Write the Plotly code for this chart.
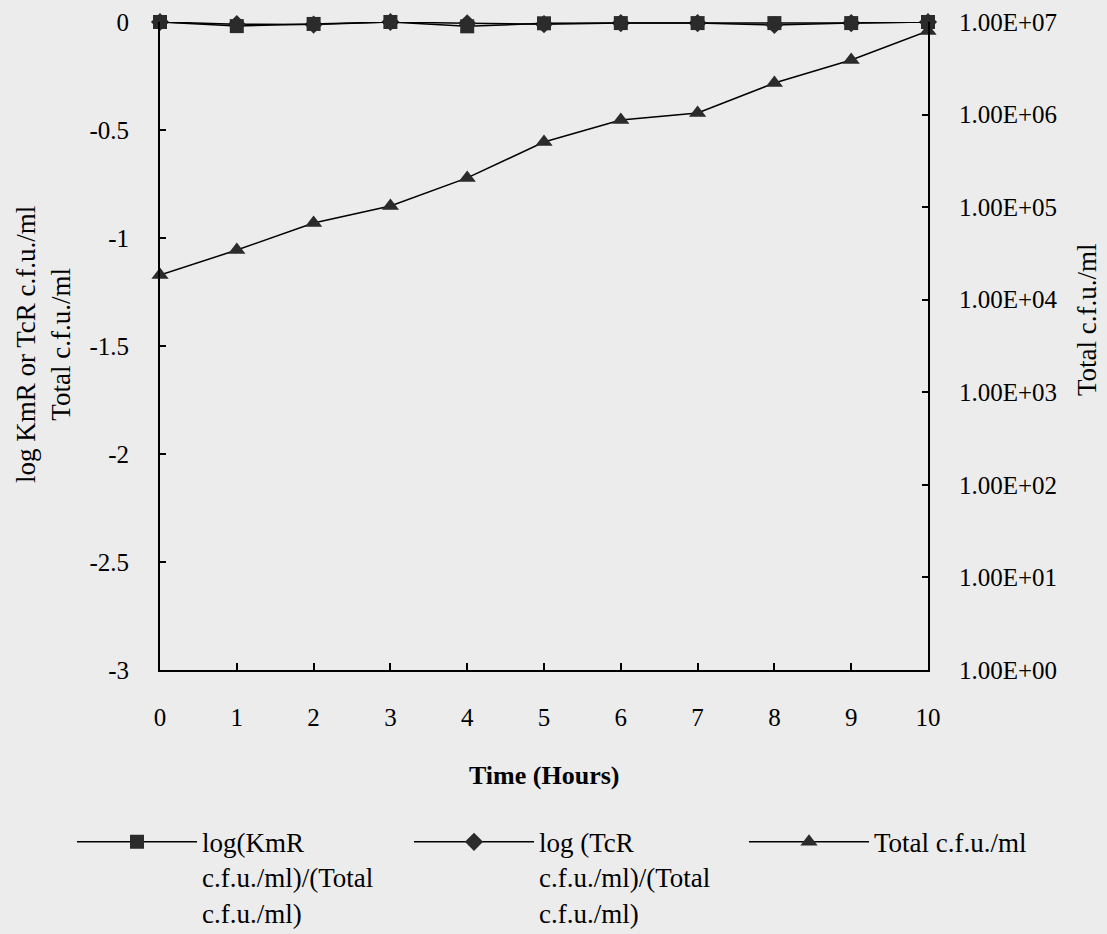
import plotly.graph_objects as go

hours = [0, 1, 2, 3, 4, 5, 6, 7, 8, 9, 10]
log_kmr_ratio = [0, -0.019, -0.009, 0, -0.02, -0.006, -0.005, -0.005, -0.005, -0.005, 0]
log_tcr_ratio = [0, -0.01, -0.012, 0, -0.006, -0.01, -0.005, -0.005, -0.014, -0.005, 0]
total_cfu = [1.85e4, 3.44e4, 6.74e4, 1.03e5, 2.07e5, 5.06e5, 8.74e5, 1.04e6, 2.19e6, 3.89e6, 8.0e6]

left_tickvals = [0, -0.5, -1, -1.5, -2, -2.5, -3]
left_ticktext = ["0", "-0.5", "-1", "-1.5", "-2", "-2.5", "-3"]
right_tickvals = [1, 10, 100, 1000, 1e4, 1e5, 1e6, 1e7]
right_ticktext = ["1.00E+00", "1.00E+01", "1.00E+02", "1.00E+03",
                  "1.00E+04", "1.00E+05", "1.00E+06", "1.00E+07"]

name_kmr = "log(KmR<br>c.f.u./ml)/(Total<br>c.f.u./ml)"
name_tcr = "log (TcR<br>c.f.u./ml)/(Total<br>c.f.u./ml)"
name_total = "Total c.f.u./ml"

FONT = "Liberation Serif"
BG = "#ececec"
MK = "#2b2b2b"

fig = go.Figure()
fig.add_trace(go.Scatter(
    x=hours, y=log_tcr_ratio, name=name_tcr, mode="lines+markers",
    line=dict(color="black", width=1.5),
    marker=dict(symbol="diamond", size=14, color=MK),
    cliponaxis=False, legend="legend2"))
fig.add_trace(go.Scatter(
    x=hours, y=log_kmr_ratio, name=name_kmr, mode="lines+markers",
    line=dict(color="black", width=1.5),
    marker=dict(symbol="square", size=14, color=MK),
    cliponaxis=False, legend="legend"))
fig.add_trace(go.Scatter(
    x=hours, y=total_cfu, name=name_total, mode="lines+markers",
    line=dict(color="black", width=1.5),
    marker=dict(symbol="triangle-up", size=15, color=MK),
    cliponaxis=False, yaxis="y2", legend="legend3"))

LEG_Y = -0.228
legend_common = dict(
    orientation="v", xanchor="left", yanchor="top", valign="top",
    bgcolor="rgba(0,0,0,0)", borderwidth=0, itemwidth=120,
    font=dict(family=FONT, size=27, color="black"),
    tracegroupgap=0,
)

fig.update_layout(
    width=1107, height=934,
    margin=dict(l=160, r=179, t=22, b=264, autoexpand=False),
    paper_bgcolor=BG, plot_bgcolor=BG,
    font=dict(family=FONT, size=25, color="black"),
    showlegend=True,
    legend=dict(x=(72 - 160) / 768, y=LEG_Y, **legend_common),
    legend2=dict(x=(409 - 160) / 768, y=LEG_Y, **legend_common),
    legend3=dict(x=(744 - 160) / 768, y=LEG_Y, **legend_common),
    xaxis=dict(
        range=[0, 10], tickvals=hours, ticktext=[str(h) for h in hours],
        ticks="inside", ticklen=7, tickwidth=1.5, tickcolor="black",
        showline=True, linecolor="black", linewidth=2,
        showgrid=False, zeroline=False, ticklabelstandoff=24,
        tickfont=dict(family=FONT, size=25, color="black"),
    ),
    yaxis=dict(
        range=[-3, 0], tickvals=left_tickvals, ticktext=left_ticktext,
        ticks="inside", ticklen=6, tickwidth=1.5, tickcolor="black",
        showline=True, linecolor="black", linewidth=2,
        showgrid=False, zeroline=False, ticklabelstandoff=24,
        tickfont=dict(family=FONT, size=25, color="black"),
    ),
    yaxis2=dict(
        type="log", range=[0, 7], overlaying="y", side="right",
        tickvals=right_tickvals, ticktext=right_ticktext,
        ticks="inside", ticklen=6, tickwidth=1.5, tickcolor="black",
        showline=True, linecolor="black", linewidth=2,
        showgrid=False, zeroline=False, ticklabelstandoff=24,
        tickfont=dict(family=FONT, size=25, color="black"),
    ),
    annotations=[
        dict(text="<b>Time (Hours)</b>", xref="paper", yref="paper",
             x=0.5, y=(670 - 775) / 648, xanchor="center", yanchor="middle",
             showarrow=False, font=dict(family=FONT, size=26, color="black")),
        dict(text="log KmR or TcR c.f.u./ml<br>Total c.f.u./ml",
             xref="paper", yref="paper", textangle=-90, align="center",
             x=(43 - 160) / 768, y=(670 - 345) / 648,
             xanchor="center", yanchor="middle", showarrow=False,
             font=dict(family=FONT, size=27, color="black")),
        dict(text="Total c.f.u./ml", xref="paper", yref="paper", textangle=-90,
             x=(1087 - 160) / 768, y=(670 - 320) / 648,
             xanchor="center", yanchor="middle", showarrow=False,
             font=dict(family=FONT, size=27, color="black")),
    ],
)

fig.write_html("out.html")
